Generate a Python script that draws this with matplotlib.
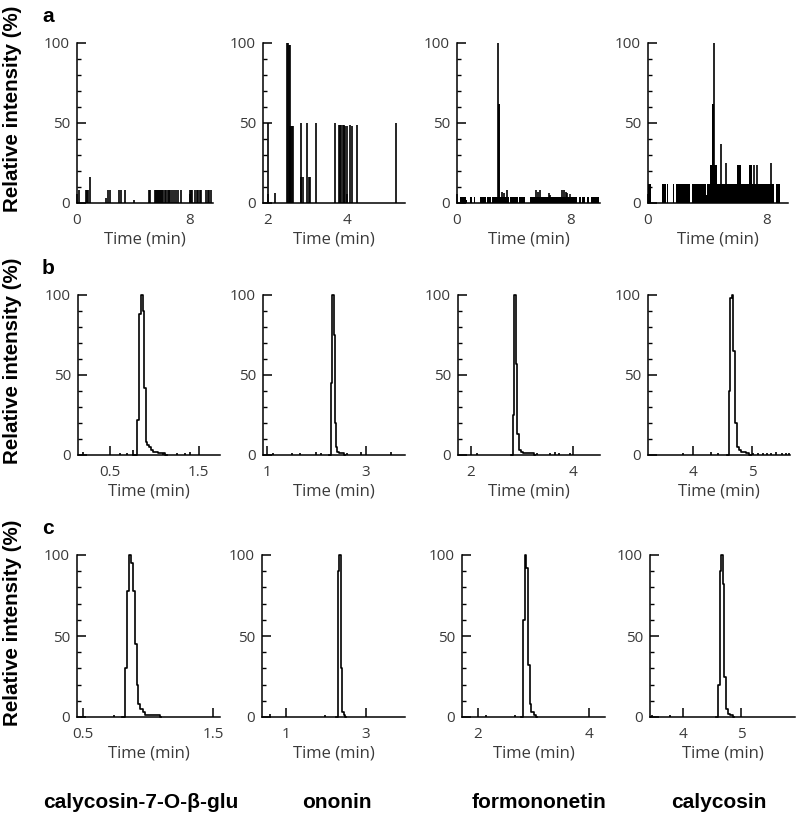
import matplotlib
matplotlib.use("Agg")
import matplotlib.pyplot as plt
from matplotlib.ticker import MultipleLocator

# ---- row a: blank plasma, spikes (time, height) and filled noise blocks (t0, t1, height)
a1_t = [0.12, 0.62, 0.70, 0.78, 0.95, 2.04, 2.20, 2.32, 2.96, 3.15, 3.43, 4.05, 5.09, 5.21,
        5.51, 5.58, 5.65, 5.72, 5.80, 5.88, 5.95, 6.03, 6.10, 6.22, 6.34, 6.46, 6.55, 6.63,
        6.77, 6.86, 7.00, 7.17, 7.41, 8.00, 8.10, 8.19, 8.36, 8.52, 8.60, 8.71, 8.83,
        9.18, 9.28, 9.37, 9.54]
a1_h = [8, 8, 8, 8, 16, 3, 8, 8, 8, 8, 8, 2, 8, 8,
        8, 8, 8, 8, 8, 8, 8, 8, 8, 8, 8, 8, 8, 8,
        8, 8, 8, 8, 8, 8, 8, 8, 8, 8, 8, 8, 8,
        8, 8, 8, 8]

a2_t = [2.00, 2.18, 2.49, 2.51, 2.53, 2.55, 2.57, 2.59, 2.61, 2.64, 2.83, 2.85, 2.89, 3.00,
        3.05, 3.08, 3.22, 3.70, 3.81, 3.84, 3.87, 3.90, 3.93, 3.96, 4.00, 4.09, 4.13, 4.26, 5.26]
a2_h = [50, 6, 100, 100, 99, 99, 48, 48, 48, 48, 50, 16, 16, 50,
        16, 16, 50, 50, 49, 49, 49, 49, 49, 48, 48, 49, 48, 49, 50]

a3_blocks = [(0.19, 0.62, 4), (0.62, 0.71, 2), (0.94, 1.06, 4), (1.18, 1.29, 4),
             (1.65, 2.05, 4), (2.10, 2.40, 4), (2.45, 3.65, 4), (3.76, 4.30, 4),
             (4.35, 4.82, 4), (5.13, 6.35, 4), (6.35, 7.10, 4), (7.15, 8.47, 4),
             (8.59, 8.75, 4), (8.85, 9.05, 4), (9.15, 9.35, 4), (9.45, 10.0, 4)]
a3_t = [2.89, 2.94, 2.97, 3.20, 3.35, 3.52, 5.55, 5.70, 5.85, 6.47, 6.60, 7.41, 7.55, 7.68, 7.80]
a3_h = [100, 62, 62, 7, 6, 8, 8, 7, 8, 6, 5, 8, 8, 7, 6]

a4_blocks = [(0.0, 0.22, 12), (0.59, 0.63, 12), (0.95, 1.05, 12), (1.10, 1.20, 12),
             (1.25, 1.35, 12), (1.71, 1.75, 12), (1.87, 2.82, 12), (2.93, 3.90, 12),
             (3.90, 3.98, 5), (3.99, 8.45, 12), (8.63, 8.90, 12),
             (4.17, 4.62, 24), (4.32, 4.44, 62), (5.97, 6.24, 24), (6.76, 6.98, 24)]
a4_t = [4.44, 4.89, 5.25, 7.14, 7.32, 8.27]
a4_h = [100, 37, 25, 24, 24, 25]

# ---- rows b and c: peak profiles (time, intensity) + small noise spikes
b1_t = [0.76, 0.80, 0.818, 0.837, 0.863, 0.882, 0.893, 0.912, 0.93, 0.95, 0.97, 0.99, 1.02, 1.06, 1.10, 1.14]
b1_y = [0, 0, 22, 88, 100, 90, 42, 8, 6, 5, 3, 2, 2, 1, 1, 0]
b1_nt = [0.20, 0.61, 0.69, 0.76, 1.10, 1.25, 1.35, 1.40]
b1_nh = [2, 1, 1, 3, 1, 1, 1, 2]

b2_t = [2.26, 2.29, 2.31, 2.335, 2.355, 2.38, 2.41, 2.44, 2.48, 2.53, 2.58]
b2_y = [0, 0, 45, 100, 75, 20, 5, 2, 1, 1, 0]
b2_nt = [1.13, 1.50, 1.67, 2.00, 2.10, 2.62, 2.90, 3.50]
b2_nh = [1, 1, 1, 2, 1, 1, 2, 2]

b3_t = [2.78, 2.81, 2.835, 2.865, 2.895, 2.925, 2.96, 3.00, 3.06, 3.12, 3.20, 3.26]
b3_y = [0, 0, 25, 100, 57, 13, 3, 2, 1, 1, 1, 0]
b3_nt = [2.13, 3.30, 3.55, 3.65, 3.72, 3.95]
b3_nh = [1, 1, 1, 2, 1, 1]

b4_t = [4.57, 4.60, 4.62, 4.645, 4.67, 4.695, 4.725, 4.755, 4.79, 4.83, 4.87, 4.92, 4.98]
b4_y = [0, 0, 40, 98, 100, 65, 20, 5, 3, 2, 2, 1, 0]
b4_nt = [3.83, 4.31, 4.43, 5.02, 5.10, 5.18, 5.25, 5.32, 5.40, 5.50, 5.58, 5.62]
b4_nh = [1, 2, 1, 1, 1, 1, 1, 1, 2, 1, 1, 1]

c1_t = [0.80, 0.815, 0.828, 0.846, 0.864, 0.877, 0.89, 0.903, 0.918, 0.931, 0.949, 0.967, 0.99, 1.03, 1.08, 1.10]
c1_y = [0, 0, 30, 78, 100, 95, 78, 45, 20, 8, 5, 3, 1, 1, 1, 0]
c1_nt = [0.74]
c1_nh = [1]

c2_t = [2.25, 2.28, 2.31, 2.35, 2.375, 2.415, 2.46, 2.50]
c2_y = [0, 0, 90, 100, 30, 3, 1, 0]
c2_nt = [0.60, 1.97]
c2_nh = [2, 1]

c3_t = [2.78, 2.805, 2.83, 2.86, 2.886, 2.916, 2.946, 2.98, 3.03, 3.07]
c3_y = [0, 0, 60, 100, 92, 32, 8, 3, 1, 0]
c3_nt = [2.15, 2.67]
c3_nh = [1, 1]

c4_t = [4.56, 4.59, 4.615, 4.644, 4.67, 4.69, 4.718, 4.747, 4.79, 4.845, 4.88]
c4_y = [0, 0, 20, 90, 100, 82, 25, 5, 2, 1, 0]
c4_nt = [3.47, 3.78]
c4_nh = [1, 1]

compounds = ["calycosin-7-O-\u03b2-glu", "ononin", "formononetin", "calycosin"]
row_letters = ["a", "b", "c"]

xticks = [[[0, 8], [2, 4], [0, 8], [0, 8]],
          [[0.5, 1.5], [1, 3], [2, 4], [4, 5]],
          [[0.5, 1.5], [1, 3], [2, 4], [4, 5]]]
xlims = [[(0, 9.66), (1.87, 5.49), (0, 10.1), (0, 9.41)],
         [(0.14, 1.74), (0.92, 3.79), (1.75, 4.53), (3.24, 5.64)],
         [(0.454, 1.55), (0.40, 3.97), (1.71, 4.29), (3.43, 5.93)]]

# pixel boxes of the axes (left, right) and (top, bottom)
W, H = 796, 816
row_y = [(43, 203), (295, 455), (555, 717)]
col_x = [[(77, 213), (263, 405), (457, 600), (648, 788)],
         [(78, 220), (263, 405), (458, 600), (648, 790)],
         [(77, 220), (262, 405), (462, 605), (650, 795)]]

fig = plt.figure(figsize=(W / 100, H / 100), dpi=100)
tick_font = "Open Sans"
grey = "#3a3a3a"


def style(ax, r, c):
    ax.set_xlim(*xlims[r][c])
    ax.set_ylim(0, 100)
    ax.spines["top"].set_visible(False)
    ax.spines["right"].set_visible(False)
    for s in ["left", "bottom"]:
        ax.spines[s].set_linewidth(1.1)
    ax.set_yticks([0, 50, 100])
    ax.yaxis.set_minor_locator(MultipleLocator(10))
    ax.set_xticks(xticks[r][c])
    ax.set_xticklabels([("%g" % v) for v in xticks[r][c]])
    ax.tick_params(which="major", direction="in", length=6.5, width=1.1,
                   labelsize=11, labelcolor=grey, pad=7)
    ax.tick_params(axis="y", which="major", pad=5)
    ax.tick_params(which="minor", direction="in", length=3, width=1.0)
    for lab in ax.get_xticklabels() + ax.get_yticklabels():
        lab.set_family(tick_font)
    ax.set_xlabel("Time (min)", fontsize=12, family=tick_font, color=grey, labelpad=3)


def spikes(ax, t, h):
    ax.vlines(t, 0, h, colors="black", linewidth=1.2, clip_on=False)


def blocks(ax, blks):
    for t0, t1, h in blks:
        ax.bar(t0, h, width=t1 - t0, align="edge", color="black", linewidth=0)


row_a = [(a1_t, a1_h, None), (a2_t, a2_h, None), (a3_t, a3_h, a3_blocks), (a4_t, a4_h, a4_blocks)]
row_b = [(b1_t, b1_y, b1_nt, b1_nh), (b2_t, b2_y, b2_nt, b2_nh),
         (b3_t, b3_y, b3_nt, b3_nh), (b4_t, b4_y, b4_nt, b4_nh)]
row_c = [(c1_t, c1_y, c1_nt, c1_nh), (c2_t, c2_y, c2_nt, c2_nh),
         (c3_t, c3_y, c3_nt, c3_nh), (c4_t, c4_y, c4_nt, c4_nh)]

for r in range(3):
    top, bot = row_y[r]
    for c in range(4):
        left, right = col_x[r][c]
        ax = fig.add_axes([left / W, 1 - bot / H, (right - left) / W, (bot - top) / H])
        if r == 0:
            t, h, blk = row_a[c]
            if blk:
                blocks(ax, blk)
            spikes(ax, t, h)
        else:
            t, y, nt, nh = (row_b if r == 1 else row_c)[c]
            ax.plot(t, y, color="black", linewidth=1.2, drawstyle="steps-mid", clip_on=False)
            spikes(ax, nt, nh)
        style(ax, r, c)

    # y label and row letter
    fig.text(13 / W, 1 - (bot - 94) / H, "Relative intensity (%)", rotation=90,
             ha="center", va="center", fontsize=14.8, fontweight="bold", family="Liberation Sans")
    fig.text(42 / W, 1 - (top - 27) / H, row_letters[r], ha="left", va="center",
             fontsize=15, fontweight="bold", family="Liberation Sans")

for x, name in zip([141, 337, 539, 719], compounds):
    fig.text(x / W, 1 - 803 / H, name, ha="center", va="center", fontsize=15,
             fontweight="bold", family="Liberation Sans")

fig.savefig("out.png", dpi=100)
